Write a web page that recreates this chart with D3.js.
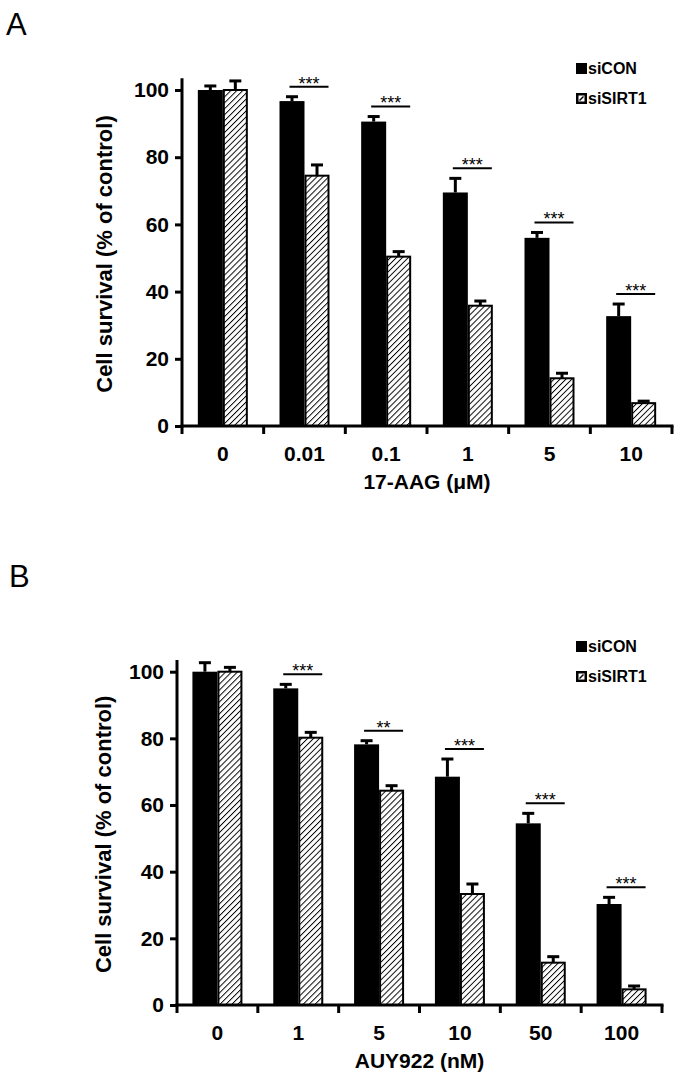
<!DOCTYPE html>
<html>
<head>
<meta charset="utf-8">
<script src="https://cdn.jsdelivr.net/npm/d3@7"></script>
<style>
  html, body { margin: 0; padding: 0; background: #fff; }
  svg { display: block; }
  text { font-family: "Liberation Sans", Arial, Helvetica, sans-serif; fill: #000; }
</style>
</head>
<body>
<svg id="chart" width="682" height="1084"></svg>
<script>
// ---------- DATA ----------
const seriesNames = ["siCON", "siSIRT1"];

const categoriesA = ["0", "0.01", "0.1", "1", "5", "10"];
const siconA      = [100, 96.7, 90.6, 69.5, 56.0, 32.7];
const siconErrA   = [1.2, 1.3, 1.5, 4.2, 1.6, 3.6];
const sisirtA     = [100, 74.5, 50.4, 35.8, 14.2, 6.8];
const sisirtErrA  = [2.7, 3.2, 1.5, 1.4, 1.5, 0.6];
const sigA        = ["", "***", "***", "***", "***", "***"];

const categoriesB = ["0", "1", "5", "10", "50", "100"];
const siconB      = [100, 95.0, 78.2, 68.5, 54.5, 30.3];
const siconErrB   = [2.7, 1.2, 1.1, 5.3, 3.0, 2.0];
const sisirtB     = [100, 80.2, 64.3, 33.3, 12.7, 4.7];
const sisirtErrB  = [1.3, 1.6, 1.5, 3.0, 1.8, 1.0];
const sigB        = ["", "***", "**", "***", "***", "***"];

const yTicks = [0, 20, 40, 60, 80, 100];
const yTitle = "Cell survival (% of control)";
const xTitleA = "17-AAG (\u03BCM)";
const xTitleB = "AUY922 (nM)";

// ---------- DRAW ----------
const svg = d3.select("#chart");
const defs = svg.append("defs");
const pat = defs.append("pattern")
  .attr("id", "hatch").attr("patternUnits", "userSpaceOnUse")
  .attr("width", 4.2).attr("height", 4.2)
  .attr("patternTransform", "rotate(45)");
pat.append("rect").attr("width", 4.2).attr("height", 4.2).attr("fill", "#fff");
pat.append("line").attr("x1", 0).attr("y1", 0).attr("x2", 0).attr("y2", 4.2)
  .attr("stroke", "#000").attr("stroke-width", 1.9);

function panel(cfg) {
  const g = svg.append("g");
  const x = d3.scaleBand().domain(cfg.categories).range([cfg.x0, cfg.x1]).padding(0);
  const y = d3.scaleLinear().domain([0, 100]).range([cfg.yZero, cfg.y100]);
  const sub = d3.scaleBand().domain(seriesNames).range([-25, 25]).padding(0);

  const rows = cfg.categories.map((c, i) => ({
    c, i,
    vals: [
      { s: "siCON", v: cfg.sicon[i], e: cfg.siconErr[i] },
      { s: "siSIRT1", v: cfg.sisirt[i], e: cfg.sisirtErr[i] }
    ],
    sig: cfg.sig[i]
  }));
  const center = c => x(c) + x.bandwidth() / 2;

  // bars
  rows.forEach(r => {
    r.vals.forEach(d => {
      const bx = center(r.c) + sub(d.s);
      if (d.s === "siCON") {
        g.append("rect").attr("x", bx).attr("y", y(d.v))
          .attr("width", sub.bandwidth()).attr("height", y(0) - y(d.v))
          .attr("fill", "#000");
      } else {
        g.append("rect").attr("x", bx + 1).attr("y", y(d.v))
          .attr("width", sub.bandwidth() - 2).attr("height", y(0) - y(d.v))
          .attr("fill", "url(#hatch)").attr("stroke", "#000").attr("stroke-width", 2);
      }
      // error bar (upper only)
      const ex = bx + sub.bandwidth() / 2;
      g.append("line").attr("x1", ex).attr("x2", ex)
        .attr("y1", y(d.v)).attr("y2", y(d.v + d.e))
        .attr("stroke", "#000").attr("stroke-width", 3);
      g.append("line").attr("x1", ex - 6).attr("x2", ex + 6)
        .attr("y1", y(d.v + d.e)).attr("y2", y(d.v + d.e))
        .attr("stroke", "#000").attr("stroke-width", 3);
    });
    if (r.sig) {
      const top = d3.max(r.vals, d => d.v + d.e) + 3;
      const cx = center(r.c);
      g.append("line").attr("x1", cx - 15).attr("x2", cx + 24)
        .attr("y1", y(top)).attr("y2", y(top))
        .attr("stroke", "#000").attr("stroke-width", 2);
      g.append("text").attr("x", cx + 4.5).attr("y", y(top) + 3)
        .attr("text-anchor", "middle").attr("font-size", 18)
        .attr("fill", "#222").text(r.sig);
    }
  });

  // y axis
  const yAxis = d3.axisLeft(y).tickValues(yTicks).tickSize(7).tickSizeOuter(0).tickPadding(6);
  const ya = g.append("g").attr("transform", `translate(${cfg.x0},0)`).call(yAxis);
  ya.select(".domain").remove();
  ya.selectAll(".tick line").attr("stroke", "#000").attr("stroke-width", 3);
  ya.selectAll(".tick text").attr("font-size", 21).attr("font-weight", "bold")
    .attr("fill", "#000").attr("font-family", '"Liberation Sans", Arial, sans-serif');
  g.append("line").attr("x1", cfg.x0).attr("x2", cfg.x0)
    .attr("y1", y(0) + 1.5).attr("y2", y(103.5))
    .attr("stroke", "#000").attr("stroke-width", 3);

  // x axis
  const xAxis = d3.axisBottom(x).tickSize(0).tickPadding(20);
  const xa = g.append("g").attr("transform", `translate(0,${cfg.yZero})`).call(xAxis);
  xa.select(".domain").remove();
  xa.selectAll(".tick text").attr("font-size", 21).attr("font-weight", "bold")
    .attr("fill", "#000").attr("font-family", '"Liberation Sans", Arial, sans-serif');
  g.append("line").attr("x1", cfg.x0 - 1.5).attr("x2", cfg.x1 + 1.5)
    .attr("y1", cfg.yZero).attr("y2", cfg.yZero)
    .attr("stroke", "#000").attr("stroke-width", 3);
  const bounds = cfg.categories.map(c => x(c)).concat([cfg.x1]);
  g.selectAll(".bt").data(bounds).enter().append("line")
    .attr("x1", d => d).attr("x2", d => d)
    .attr("y1", cfg.yZero).attr("y2", cfg.yZero + 8)
    .attr("stroke", "#000").attr("stroke-width", 3);

  // titles
  g.append("text").attr("x", (cfg.x0 + cfg.x1) / 2).attr("y", cfg.yZero + 63)
    .attr("text-anchor", "middle").attr("font-size", 21).attr("font-weight", "bold")
    .text(cfg.xTitle);
  g.append("text")
    .attr("transform", `translate(${cfg.yTitleX},${y(50) - 4}) rotate(-90)`)
    .attr("text-anchor", "middle").attr("font-size", 22).attr("font-weight", "bold")
    .text(yTitle);

  // panel letter
  g.append("text").attr("x", cfg.letterX).attr("y", cfg.letterY)
    .attr("font-size", 31).text(cfg.letter);

  // legend
  const lg = g.append("g").attr("transform", `translate(576,${cfg.legendY})`);
  lg.append("rect").attr("x", 0).attr("y", 0).attr("width", 11).attr("height", 11).attr("fill", "#000");
  lg.append("text").attr("x", 12).attr("y", 11).attr("font-size", 16).attr("font-weight", "bold").text(seriesNames[0]);
  const l2 = lg.append("g").attr("transform", "translate(0,30)");
  l2.append("rect").attr("x", 0).attr("y", 0).attr("width", 11).attr("height", 11).attr("fill", "#000");
  l2.append("rect").attr("x", 2.5).attr("y", 2.5).attr("width", 6).attr("height", 6).attr("fill", "#fff");
  l2.append("line").attr("x1", 3.5).attr("y1", 7.5).attr("x2", 7.5).attr("y2", 3.5)
    .attr("stroke", "#000").attr("stroke-width", 1.5);
  l2.append("text").attr("x", 12).attr("y", 11).attr("font-size", 16).attr("font-weight", "bold").text(seriesNames[1]);
}

panel({
  categories: categoriesA, sicon: siconA, siconErr: siconErrA,
  sisirt: sisirtA, sisirtErr: sisirtErrA, sig: sigA,
  x0: 182, x1: 672, yZero: 426, y100: 90,
  xTitle: xTitleA, yTitleX: 112, letter: "A", letterX: 6, letterY: 35, legendY: 63
});
panel({
  categories: categoriesB, sicon: siconB, siconErr: siconErrB,
  sisirt: sisirtB, sisirtErr: sisirtErrB, sig: sigB,
  x0: 177, x1: 662, yZero: 1005, y100: 671.7,
  xTitle: xTitleB, yTitleX: 111, letter: "B", letterX: 9, letterY: 587, legendY: 641
});
</script>
</body>
</html>
